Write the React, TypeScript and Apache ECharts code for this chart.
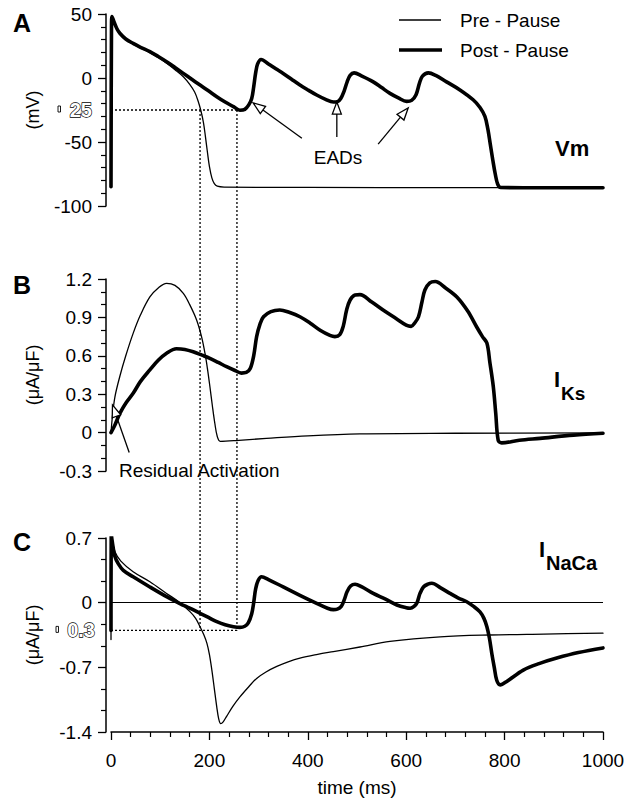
import React, { useEffect, useRef } from 'react';
import * as echarts from 'echarts';

const FONT = '"Liberation Sans", Arial, Helvetica, sans-serif';

// time (ms) axis
const timeMin = 0;
const timeMax = 1000;
const timeInterval = 200;

// Panel A: membrane potential (mV)
const preVm: [number, number][] = [
  [0, -85], [1, 40], [2, 48], [6, 44], [12, 38], [18, 34.5], [30, 30], [45, 26.5], [60, 23.5], [79, 19.8],
  [96, 16], [113, 11.5], [130, 6.5], [147, 1], [160, -5], [170, -11], [177, -18], [183, -26], [188, -35],
  [192, -46], [196, -58], [200, -69], [205, -78], [210, -82.5], [216, -84.5], [230, -85.2], [400, -85.5],
  [700, -85.6], [1000, -85.7],
];
const postVm: [number, number][] = [
  [0, -85], [1, 40], [2, 48], [6, 44], [12, 38.5], [18, 35], [30, 30.5], [45, 27], [60, 24], [79, 20.6],
  [96, 16.8], [113, 12.7], [130, 8.2], [147, 3.6], [164, -1], [181, -5.5], [198, -10], [215, -14.6],
  [232, -18.8], [249, -22.4], [262, -25.2], [272, -24.5], [280, -21], [286, -16], [290, -7], [294, 4],
  [298, 11], [305, 14.5], [320, 11], [335, 7.2], [350, 3.6], [367, -1], [384, -5.5], [401, -9.5],
  [418, -13.3], [435, -16.5], [452, -18.8], [460, -18.6], [467, -16], [474, -10], [480, -3], [486, 2],
  [494, 4], [510, 1.5], [533, -3], [550, -7.5], [567, -12], [584, -15.5], [601, -18.3], [611, -17.5],
  [620, -13], [627, -4], [633, 1.5], [645, 4], [660, 2], [682, -3], [710, -9.5], [736, -17], [750, -23],
  [760, -30], [766, -40], [771, -52], [776, -64], [781, -75], [786, -83], [792, -85.5], [850, -85.7],
  [1000, -85.8],
];

// Panel B: IKs (uA/uF)
const preIKs: [number, number][] = [
  [0, 0], [3, 0.13], [8, 0.28], [18, 0.44], [30, 0.6], [45, 0.775], [60, 0.92], [79, 1.06], [96, 1.13],
  [113, 1.166], [130, 1.15], [147, 1.088], [160, 1.0], [174, 0.88], [184, 0.75], [191, 0.62], [196, 0.5],
  [201, 0.36], [206, 0.21], [211, 0.073], [216, -0.03], [222, -0.068], [260, -0.06], [316, -0.045],
  [400, -0.025], [506, -0.01], [700, -0.005], [1000, -0.002],
];
const postIKs: [number, number][] = [
  [0, 0], [8, 0.06], [18, 0.15], [30, 0.23], [45, 0.307], [60, 0.4], [79, 0.49], [96, 0.565], [113, 0.62],
  [133, 0.655], [150, 0.65], [167, 0.632], [185, 0.605], [201, 0.58], [218, 0.548], [235, 0.515],
  [252, 0.485], [265, 0.465], [275, 0.47], [283, 0.5], [290, 0.6], [296, 0.75], [303, 0.85], [310, 0.905],
  [325, 0.945], [343, 0.958], [362, 0.94], [384, 0.905], [405, 0.855], [425, 0.8], [445, 0.76], [455, 0.75],
  [465, 0.765], [472, 0.83], [479, 0.96], [486, 1.036], [496, 1.075], [506, 1.078], [530, 1.02],
  [553, 0.958], [580, 0.89], [600, 0.84], [610, 0.83], [618, 0.86], [625, 0.905], [632, 1.02],
  [638, 1.114], [648, 1.17], [659, 1.18], [680, 1.13], [703, 1.06], [725, 0.95], [743, 0.827],
  [755, 0.75], [764, 0.7], [770, 0.55], [777, 0.36], [782, 0.15], [787, -0.06], [794, -0.08],
  [830, -0.06], [872, -0.045], [940, -0.02], [1000, -0.005],
];

// Panel C: INaCa (uA/uF)
const preINaCa: [number, number][] = [
  [0, -0.4], [0.5, 0.75], [2, 0.7], [8, 0.55], [20, 0.45], [45, 0.335], [79, 0.227], [113, 0.1], [140, 0],
  [161, -0.1], [172, -0.17], [181, -0.26], [188, -0.34], [195, -0.44], [200, -0.56], [205, -0.73],
  [210, -0.93], [215, -1.13], [219, -1.26], [223, -1.31], [228, -1.29], [235, -1.23], [248, -1.12],
  [262, -1.02], [280, -0.91], [296, -0.82], [315, -0.75], [337, -0.69], [360, -0.64], [384, -0.6],
  [420, -0.56], [452, -0.53], [506, -0.48], [567, -0.42], [669, -0.37], [770, -0.35], [880, -0.34],
  [1000, -0.33],
];
const postINaCa: [number, number][] = [
  [0, -0.3], [0.5, 0.75], [2, 0.68], [8, 0.5], [15, 0.42], [25, 0.35], [45, 0.28], [79, 0.17], [113, 0.065],
  [140, -0.01], [160, -0.06], [181, -0.115], [198, -0.16], [215, -0.206], [232, -0.24], [249, -0.26],
  [262, -0.267], [272, -0.255], [279, -0.22], [286, -0.12], [290, 0.0], [294, 0.15], [299, 0.24],
  [306, 0.28], [320, 0.25], [350, 0.17], [384, 0.08], [418, -0.007], [440, -0.06], [452, -0.075],
  [460, -0.07], [468, -0.04], [474, 0.03], [480, 0.12], [487, 0.18], [496, 0.2], [510, 0.17], [533, 0.1],
  [557, 0.04], [581, -0.025], [600, -0.055], [608, -0.06], [616, -0.04], [622, 0.0], [628, 0.1],
  [635, 0.17], [644, 0.2], [652, 0.21], [670, 0.16], [689, 0.1], [706, 0.05], [723, 0.01], [737, -0.04],
  [750, -0.1], [758, -0.17], [764, -0.26], [769, -0.38], [774, -0.55], [779, -0.7], [784, -0.84],
  [791, -0.89], [805, -0.85], [838, -0.73], [870, -0.66], [906, -0.6], [950, -0.54], [1000, -0.49],
];

// axis ranges
const vmAxis = { min: -100, max: 50, interval: 50, minor: 5 };
const iksAxis = { min: -0.3, max: 1.2, interval: 0.3, minor: 3 };
const nacaAxis = { min: -1.4, max: 0.7, interval: 0.7, minor: 3 };

// annotation data (time, value)
const thresholdVm = -25;
const thresholdNaCa = -0.3;
const tPre = 181;
const tPost = 256;
const eadArrows: { tip: [number, number]; tail: [number, number] }[] = [
  { tip: [289, -19.5], tail: [388, -47] },
  { tip: [459, -18.8], tail: [459, -46] },
  { tip: [604, -23.4], tail: [543, -51.6] },
];
const residualArrow = { tip: [3, 0.216] as [number, number], tail: [37, -0.155] as [number, number] };

export default function App() {
  const ref = useRef<HTMLDivElement>(null);

  useEffect(() => {
    if (!ref.current) return;
    const chart = echarts.init(ref.current, undefined, { renderer: 'svg' });

    const grids = [
      { left: 111, right: 33, top: 14, height: 192 },
      { left: 111, right: 33, top: 279, height: 192 },
      { left: 111, right: 33, top: 538, height: 194 },
    ];

    const xAxisBase = (i: number, show: boolean) => ({
      type: 'value',
      gridIndex: i,
      min: timeMin,
      max: timeMax,
      interval: timeInterval,
      show,
      splitLine: { show: false },
      axisLine: { show: true, onZero: false, lineStyle: { color: '#000', width: 1.5 } },
      axisTick: { show: true, length: 8, lineStyle: { color: '#000', width: 1.3 } },
      minorTick: { show: true, splitNumber: 5, length: 5, lineStyle: { color: '#000', width: 1.2 } },
      axisLabel: {
        color: '#000',
        fontSize: 19,
        fontFamily: FONT,
        margin: 19,
        formatter: (v: number) => String(Math.round(v)),
      },
      name: show ? 'time (ms)' : '',
      nameLocation: 'middle',
      nameGap: 46,
      nameTextStyle: { color: '#000', fontSize: 19, fontFamily: FONT },
    });

    const fmt1 = (v: number) => String(Math.round(v * 10) / 10);
    const yAxisBase = (i: number, ax: any, name: string, formatter: any) => ({
      type: 'value',
      gridIndex: i,
      min: ax.min,
      max: ax.max,
      interval: ax.interval,
      offset: 5,
      splitLine: { show: false },
      axisLine: { show: true, onZero: false, lineStyle: { color: '#000', width: 1.5 } },
      axisTick: { show: true, length: 8, lineStyle: { color: '#000', width: 1.3 } },
      minorTick: { show: true, splitNumber: ax.minor, length: 5, lineStyle: { color: '#000', width: 1.2 } },
      axisLabel: { color: '#000', fontSize: 19, fontFamily: FONT, margin: 14, formatter },
      name,
      nameLocation: 'middle',
      nameRotate: 90,
      nameGap: 64,
      nameTextStyle: { color: '#000', fontSize: 18, fontFamily: FONT },
    });

    const lineSeries = (name: string, i: number, data: [number, number][], thick: boolean, extra: any = {}) => ({
      type: 'line',
      name,
      xAxisIndex: i,
      yAxisIndex: i,
      data,
      symbol: 'none',
      showSymbol: false,
      smooth: 0.35,
      clip: true,
      silent: true,
      lineStyle: { color: '#000', width: thick ? 3.6 : 1.3, join: 'round', cap: 'round' },
      z: thick ? 3 : 2,
      ...extra,
    });

    chart.setOption({
      animation: false,
      grid: grids,
      xAxis: [xAxisBase(0, false), xAxisBase(1, false), xAxisBase(2, true)],
      yAxis: [
        yAxisBase(0, vmAxis, '(mV)', (v: number) => String(Math.round(v))),
        yAxisBase(1, iksAxis, '(μA/μF)', fmt1),
        yAxisBase(2, nacaAxis, '(μA/μF)', fmt1),
      ],
      series: [
        lineSeries('Pre - Pause', 0, preVm, false),
        lineSeries('Post - Pause', 0, postVm, true),
        lineSeries('Pre - Pause', 1, preIKs, false),
        lineSeries('Post - Pause', 1, postIKs, true),
        lineSeries('Pre - Pause', 2, preINaCa, false, {
          markLine: {
            silent: true,
            symbol: ['none', 'none'],
            label: { show: false },
            lineStyle: { color: '#000', width: 1.2, type: 'solid' },
            data: [{ yAxis: 0 }],
          },
        }),
        lineSeries('Post - Pause', 2, postINaCa, true),
      ],
    });

    const px = (g: number, t: number, v: number): number[] =>
      chart.convertToPixel({ xAxisIndex: g, yAxisIndex: g }, [t, v]) as number[];

    const dotted = { stroke: '#000', lineWidth: 1.3, lineDash: [2, 2] };
    const line = (a: number[], b: number[], style: any) => ({
      type: 'line',
      shape: { x1: a[0], y1: a[1], x2: b[0], y2: b[1] },
      style,
      silent: true,
      z: 50,
    });
    const arrow = (tip: number[], tail: number[]) => {
      const dx = tip[0] - tail[0];
      const dy = tip[1] - tail[1];
      const len = Math.sqrt(dx * dx + dy * dy);
      const ux = dx / len;
      const uy = dy / len;
      const L = 12;
      const W = 4.5;
      const bx = tip[0] - ux * L;
      const by = tip[1] - uy * L;
      return [
        line(tail, [bx, by], { stroke: '#000', lineWidth: 1.3 }),
        {
          type: 'polygon',
          shape: {
            points: [
              [tip[0], tip[1]],
              [bx - uy * W, by + ux * W],
              [bx + uy * W, by - ux * W],
            ],
          },
          style: { fill: '#fff', stroke: '#000', lineWidth: 1.3 },
          silent: true,
          z: 60,
        },
      ];
    };

    const aThrStart = px(0, 0, thresholdVm);
    const aThrEnd = px(0, tPost, thresholdVm);
    const cThrStart = px(2, 0, thresholdNaCa);
    const cThrEnd = px(2, tPost, thresholdNaCa);
    const vPreTop = px(0, tPre, thresholdVm);
    const vPreBot = px(2, tPre, thresholdNaCa);
    const vPostTop = px(0, tPost, thresholdVm);
    const vPostBot = px(2, tPost, thresholdNaCa);

    const text = (x: number, y: number, t: string, font: string, extra: any = {}) => ({
      type: 'text',
      x,
      y,
      silent: true,
      z: 70,
      style: { text: t, font, fill: '#000', align: 'left', verticalAlign: 'middle', ...extra },
    });

    const outlined = { fill: '#fff', stroke: '#000', lineWidth: 1.3, align: 'right' };

    const graphics: any[] = [
      line(aThrStart, aThrEnd, dotted),
      line(cThrStart, cThrEnd, dotted),
      line(vPreTop, vPreBot, dotted),
      line(vPostTop, vPostBot, dotted),
      ...eadArrows.flatMap((a) => arrow(px(0, a.tip[0], a.tip[1]), px(0, a.tail[0], a.tail[1]))),
      ...arrow(px(1, residualArrow.tip[0], residualArrow.tip[1]), px(1, residualArrow.tail[0], residualArrow.tail[1])),
      // panel letters
      text(13, 23, 'A', `bold 25px ${FONT}`),
      text(13, 285, 'B', `bold 25px ${FONT}`),
      text(13, 542, 'C', `bold 25px ${FONT}`),
      // legend
      line([399, 20], [441, 20], { stroke: '#000', lineWidth: 1.3 }),
      line([399, 50], [442, 50], { stroke: '#000', lineWidth: 3.6 }),
      text(460, 20, 'Pre - Pause', `19px ${FONT}`),
      text(460, 50, 'Post - Pause', `19px ${FONT}`),
      // annotations
      text(338, 157, 'EADs', `19px ${FONT}`, { align: 'center' }),
      text(119, 470, 'Residual Activation', `19px ${FONT}`),
      text(555, 148, 'Vm', `bold 22px ${FONT}`),
      text(554, 379, 'I', `bold 22px ${FONT}`),
      text(561, 393, 'Ks', `bold 19px ${FONT}`),
      text(539, 549, 'I', `bold 22px ${FONT}`),
      text(546, 563, 'NaCa', `bold 20px ${FONT}`),
      // outlined threshold labels
      {
        type: 'rect',
        shape: { x: 58, y: aThrStart[1] - 4, width: 2.5, height: 6 },
        style: { fill: '#fff', stroke: '#000', lineWidth: 0.9 },
        silent: true,
      },
      text(92, aThrStart[1], '25', `bold 20px ${FONT}`, outlined),
      {
        type: 'rect',
        shape: { x: 56, y: cThrStart[1] - 4, width: 2.5, height: 6 },
        style: { fill: '#fff', stroke: '#000', lineWidth: 0.9 },
        silent: true,
      },
      text(95, cThrStart[1], '0.3', `bold 20px ${FONT}`, outlined),
    ];

    chart.setOption({ graphic: graphics });

    return () => chart.dispose();
  }, []);

  return (
    <div
      ref={ref}
      style={{ position: 'fixed', left: 0, top: 0, width: 636, height: 802, background: '#fff' }}
    />
  );
}
